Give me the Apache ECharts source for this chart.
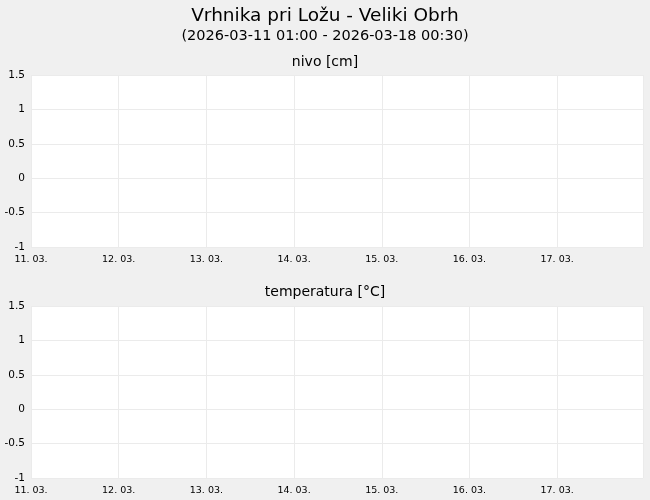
<!DOCTYPE html>
<html>
<head>
<meta charset="utf-8">
<script src="https://cdn.jsdelivr.net/npm/echarts@6/dist/echarts.min.js"></script>
<style>
  html, body { margin: 0; padding: 0; background: #f0f0f0; }
  #main { width: 650px; height: 500px; }
</style>
</head>
<body>
<div id="main"></div>
<script>
var chartTitle = 'Vrhnika pri Ložu - Veliki Obrh';
var chartSubtitle = '(2026-03-11 01:00 - 2026-03-18 00:30)';
var panelTitles = ['nivo [cm]', 'temperatura [°C]'];

// time range in UTC (local 01:00 = 00:00 UTC)
var timeStart = Date.UTC(2026, 2, 11, 0, 0);
var timeEnd = Date.UTC(2026, 2, 17, 23, 30);
var dayMs = 24 * 3600 * 1000;

// y scale, same for both panels
var yMin = -1;
var yMax = 1.5;
var yStep = 0.5;

// no measurements in the period
var nivoValues = [];
var temperaturaValues = [];

var myChart = echarts.init(document.getElementById('main'));

function dayLabel(v) {
  var d = new Date(v);
  var dd = ('0' + d.getUTCDate()).slice(-2);
  var mm = ('0' + (d.getUTCMonth() + 1)).slice(-2);
  return dd + '. ' + mm + '.';
}

var font = 'DejaVu Sans';
var gridTops = [75, 306];

function xAxisFor(i) {
  return {
    type: 'value',
    gridIndex: i,
    min: timeStart,
    max: timeEnd,
    interval: dayMs,
    axisLine: {show: false},
    axisTick: {show: false},
    axisLabel: {
      formatter: dayLabel,
      fontFamily: font,
      fontSize: 9.5,
      color: '#000',
      margin: 8,
      showMaxLabel: false
    },
    splitLine: {show: true, lineStyle: {color: '#ebebeb', width: 1}}
  };
}

function yAxisFor(i) {
  return {
    type: 'value',
    gridIndex: i,
    min: yMin,
    max: yMax,
    interval: yStep,
    axisLabel: {
      fontFamily: font,
      fontSize: 10.5,
      color: '#000',
      margin: 6
    },
    axisLine: {show: false},
    axisTick: {show: false},
    splitLine: {show: true, lineStyle: {color: '#ebebeb', width: 1}}
  };
}

myChart.setOption({
  backgroundColor: '#f0f0f0',
  animation: false,
  title: [
    {text: chartTitle, left: 'center', top: 2,
     textStyle: {fontFamily: font, fontSize: 18.5, fontWeight: 'normal', color: '#000'}},
    {text: chartSubtitle, left: 'center', top: 24,
     textStyle: {fontFamily: font, fontSize: 14.5, fontWeight: 'normal', color: '#000'}},
    {text: panelTitles[0], left: 'center', top: 50,
     textStyle: {fontFamily: font, fontSize: 14, fontWeight: 'normal', color: '#000'}},
    {text: panelTitles[1], left: 'center', top: 280,
     textStyle: {fontFamily: font, fontSize: 14, fontWeight: 'normal', color: '#000'}}
  ],
  grid: [
    {left: 31, right: 7, top: gridTops[0], height: 172, show: true, backgroundColor: '#fff', borderWidth: 0},
    {left: 31, right: 7, top: gridTops[1], height: 172, show: true, backgroundColor: '#fff', borderWidth: 0}
  ],
  xAxis: [xAxisFor(0), xAxisFor(1)],
  yAxis: [yAxisFor(0), yAxisFor(1)],
  series: [
    {name: panelTitles[0], type: 'line', xAxisIndex: 0, yAxisIndex: 0, data: nivoValues, showSymbol: false},
    {name: panelTitles[1], type: 'line', xAxisIndex: 1, yAxisIndex: 1, data: temperaturaValues, showSymbol: false}
  ]
});
</script>
</body>
</html>
